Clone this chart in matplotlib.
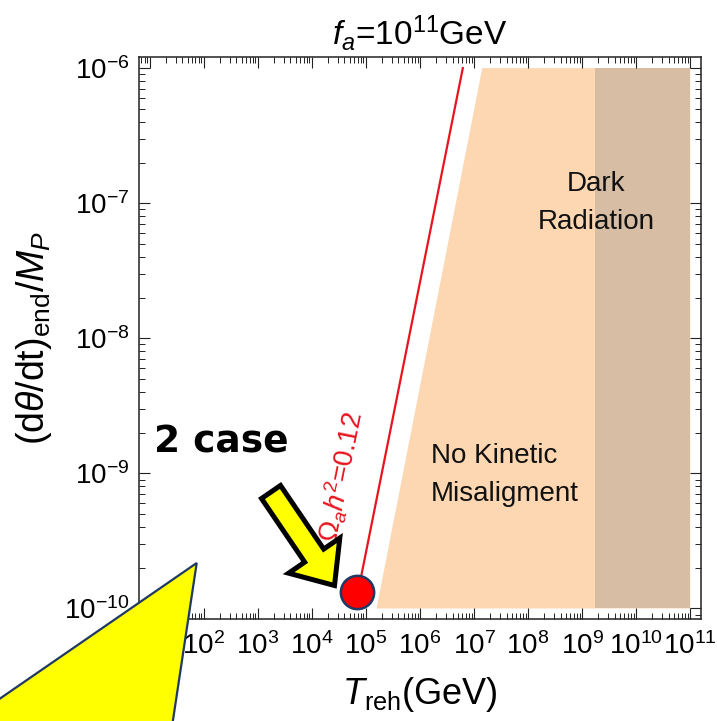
import matplotlib
matplotlib.use("Agg")
import matplotlib.pyplot as plt
import numpy as np
from matplotlib.patches import Polygon, FancyArrow
from matplotlib.ticker import LogLocator, NullFormatter, LogFormatterMathtext, FixedLocator

plt.rcParams['font.family'] = ['Liberation Sans', 'DejaVu Sans']
plt.rcParams['mathtext.fontset'] = 'custom'
plt.rcParams['mathtext.rm'] = 'Liberation Sans'
plt.rcParams['mathtext.it'] = 'Liberation Sans:italic'
plt.rcParams['mathtext.bf'] = 'Liberation Sans:bold'

# ---------------- data ----------------
x_lim = [10**0.8, 10**11.2]
y_lim = [10**-10.08, 10**-5.92]
x_tick_exps = list(range(1, 12))
y_tick_exps = list(range(-10, -5))

# relic abundance line Omega_a h^2 = 0.12
omega_T = [6.2e4, 6.2e6]
omega_y = [1e-10, 1e-6]

# "No kinetic misalignment" region (polygon)
nkm_T = [1.57e5, 1.42e7, 1e11, 1e11]
nkm_y = [1e-10, 1e-6, 1e-6, 1e-10]

# "Dark radiation" region
dr_T = [1.73e9, 1e11]
dr_y = [1e-10, 1e-6]

# highlighted point
pt_T = [6.8e4]
pt_y = [1.33e-10]

# ---------------- figure ----------------
W, H = 717, 721
fig = plt.figure(figsize=(W / 100, H / 100), dpi=100)
ax = fig.add_axes([139 / W, 1 - 619.3 / H, (701 - 139) / W, (619.3 - 57.3) / H])
ax.set_xscale('log')
ax.set_yscale('log')
ax.set_xlim(x_lim)
ax.set_ylim(y_lim)

light = '#FCD7B2'
dark = '#D6BDA3'
ax.fill(nkm_T, nkm_y, color=light, lw=0, zorder=1)
ax.fill_between(dr_T, dr_y[0], dr_y[1], color=dark, lw=0, zorder=1.1)

ax.plot(omega_T, omega_y, color='#E8141E', lw=1.6, zorder=3)
ax.plot(pt_T, pt_y, 'o', ms=24, mfc='#FF0000', mec='#1F3864', mew=1.8, zorder=5, clip_on=False)

ax.text(10**4.54, 10**-9.03, r'$\Omega_a h^2$=0.12', color='#E8141E', fontsize=20,
        rotation=78.7, rotation_mode='anchor', ha='center', va='center', zorder=4)

ax.text(10**6.2, 10**-9.015, 'No Kinetic\nMisaligment', fontsize=20, ha='left', va='center',
        multialignment='left', linespacing=1.6, color='#111111', zorder=4)
ax.text(10**9.257, 1e-7, 'Dark\nRadiation', fontsize=20, ha='center', va='center',
        multialignment='center', linespacing=1.6, color='#111111', zorder=4)

# ticks
ax.xaxis.set_major_locator(FixedLocator([10.0**e for e in x_tick_exps]))
ax.yaxis.set_major_locator(FixedLocator([10.0**e for e in y_tick_exps]))
ax.xaxis.set_major_formatter(LogFormatterMathtext())
ax.yaxis.set_major_formatter(LogFormatterMathtext())
ax.xaxis.set_minor_locator(LogLocator(base=10, subs=np.arange(2, 10), numticks=200))
ax.yaxis.set_minor_locator(LogLocator(base=10, subs=np.arange(2, 10), numticks=200))
ax.xaxis.set_minor_formatter(NullFormatter())
ax.yaxis.set_minor_formatter(NullFormatter())
ax.tick_params(which='both', direction='in', top=True, right=True, color='#222222')
ax.tick_params(which='major', length=8, width=0.8, labelsize=20)
ax.tick_params(axis='x', which='major', pad=9)
ax.tick_params(axis='y', which='major', pad=7)
ax.tick_params(which='minor', length=4.5, width=0.7)
for s in ax.spines.values():
    s.set_linewidth(1.1)
    s.set_color('#222222')

ax.set_title(r'$f_a$=10$^{11}$GeV', fontsize=24, pad=9)
ax.set_xlabel(r'$T_{\rm reh}$(GeV)', fontsize=26, labelpad=11)
ax.set_ylabel(r'(d$\theta$/dt)$_{\rm end}$/$M_P$', fontsize=27, labelpad=7)

# ---------------- overlay annotations (figure pixels) ----------------
def fx(x):
    return x / W

def fy(y):
    return 1 - y / H

tri = Polygon([(fx(196.7), fy(563)), (fx(-5), fy(702)), (fx(-5), fy(730)), (fx(171.5), fy(730))],
              closed=True, transform=fig.transFigure, facecolor='#FFFF00',
              edgecolor='#1F3864', lw=1.6, zorder=10)
fig.add_artist(tri)

tail = (271, 492)
tip = (334.5, 585.5)
dxp, dyp = tip[0] - tail[0], tip[1] - tail[1]
arr = FancyArrow(fx(tail[0]), fy(tail[1]), dxp / W, -dyp / H,
                 width=23 / W, head_width=62 / W, head_length=36 / W,
                 length_includes_head=True, transform=fig.transFigure,
                 facecolor='#FFFF00', edgecolor='black', lw=3.6, joinstyle='miter', zorder=11)
fig.add_artist(arr)

fig.text(fx(154), fy(452.7), '2 case', fontsize=27, fontweight='bold',
         family=['DejaVu Sans'], ha='left', va='baseline', zorder=12)

fig.savefig('out.png', dpi=100)
